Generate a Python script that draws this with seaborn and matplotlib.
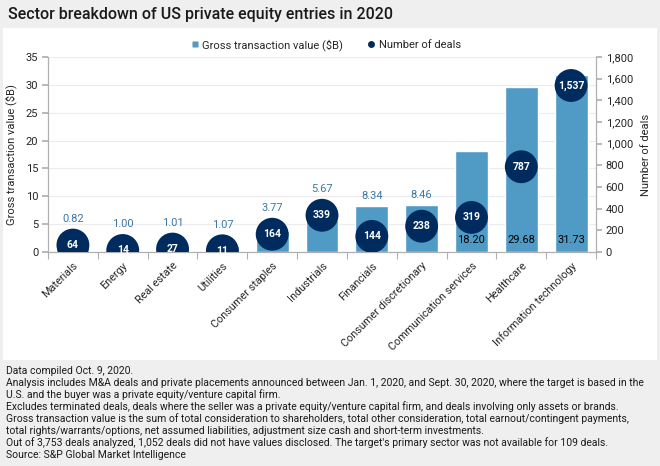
import matplotlib
matplotlib.use("Agg")
import matplotlib.pyplot as plt
from matplotlib.lines import Line2D
from matplotlib.patches import Rectangle
import numpy as np
import pandas as pd
import seaborn as sns

sectors = [
    "Materials", "Energy", "Real estate", "Utilities", "Consumer staples",
    "Industrials", "Financials", "Consumer discretionary",
    "Communication services", "Healthcare", "Information technology",
]
gross_value = [0.82, 1.00, 1.01, 1.07, 3.77, 5.67, 8.34, 8.46, 18.20, 29.68, 31.73]
deal_counts = [64, 14, 27, 11, 164, 339, 144, 238, 319, 787, 1537]

notes = [
    "Data compiled Oct. 9, 2020.",
    "Analysis includes M&A deals and private placements announced between Jan. 1, 2020, and Sept. 30, 2020, where the target is based in the",
    "U.S. and the buyer was a private equity/venture capital firm.",
    "Excludes terminated deals, deals where the seller was a private equity/venture capital firm, and deals involving only assets or brands.",
    "Gross transaction value is the sum of total consideration to shareholders, total other consideration, total earnout/contingent payments,",
    "total rights/warrants/options, net assumed liabilities, adjustment size cash and short-term investments.",
    "Out of 3,753 deals analyzed, 1,052 deals did not have values disclosed. The target's primary sector was not available for 109 deals.",
    "Source: S&P Global Market Intelligence",
]

BAR_COLOR = "#4f9bc6"
DOT_COLOR = "#002b5f"
LABEL_BLUE = "#3b78a6"
BG = "#efefef"

sns.set_theme(style="white")
plt.rcParams["font.family"] = ["Roboto", "DejaVu Sans"]

df = pd.DataFrame({"sector": sectors, "value": gross_value, "deals": deal_counts})
df["pos"] = np.arange(len(df))

fig = plt.figure(figsize=(6.6, 4.66), dpi=100)
fig.patch.set_facecolor(BG)
fig.patches.append(Rectangle((3 / 660, 1 - 360 / 466), 654 / 660, 332 / 466,
                             transform=fig.transFigure, facecolor="white",
                             edgecolor="none", zorder=-5))

ax = fig.add_axes([48 / 660, 1 - 252 / 466, 548 / 660, 195 / 466])
ax.set_facecolor("none")
sns.barplot(data=df, x="pos", y="value", color=BAR_COLOR, width=0.66,
            saturation=1, ax=ax, zorder=2)
ax.set_ylim(0, 35)
ax.set_yticks(range(0, 36, 5))
ax.grid(axis="y", color="#ececec", linewidth=0.8, zorder=0)
ax.set_axisbelow(True)

ax2 = ax.twinx()
sns.scatterplot(data=df, x="pos", y="deals", s=560, color=DOT_COLOR,
                edgecolor="none", ax=ax2, zorder=3, legend=False)
ax2.set_ylim(0, 1800)
ax2.set_yticks(range(0, 1801, 200))
ax2.set_yticklabels([f"{v:,}" for v in range(0, 1801, 200)])

# deal count labels inside the circles
for p, d in zip(df["pos"], df["deals"]):
    ax2.text(p, d, f"{d:,}", ha="center", va="center", color="white",
             fontsize=7.5, fontweight="bold", zorder=4)

# value labels: above bar/circle for small bars, inside base for big bars
px_to_left = 35 / 195
for p, v, d in zip(df["pos"], df["value"], df["deals"]):
    if v > 15:
        ax2.annotate(f"{v:.2f}", (p, 0), xytext=(0, 12), textcoords="offset pixels",
                     ha="center", va="center", fontsize=8, color="black", zorder=5)
    else:
        top = max(v, d / 1800 * 35 + 16 * px_to_left)
        ax2.annotate(f"{v:.2f}", (p, top / 35 * 1800), xytext=(0, 10),
                     textcoords="offset pixels", ha="center", va="center",
                     fontsize=8, color=LABEL_BLUE, zorder=5)

ax.set_xlim(-0.5, len(df) - 0.5)
ax.set_xticks(df["pos"])
ax.set_xticklabels(sectors, rotation=45, ha="right", rotation_mode="anchor",
                   fontsize=7.8)
ax.set_xticks(np.arange(-0.5, len(df), 1), minor=True)
ax.tick_params(axis="x", which="major", length=0, pad=6)
ax.tick_params(axis="x", which="minor", length=5, color="#b0b0b0", width=0.8,
               bottom=True)
ax.tick_params(axis="y", length=4, color="#b0b0b0", labelsize=8, pad=3, left=True)
ax2.tick_params(axis="y", length=4, color="#b0b0b0", labelsize=8, pad=3, right=True)
ax.set_xlabel("")
ax.set_ylabel("Gross transaction value ($B)", fontsize=8, labelpad=6)
ax2.set_ylabel("Number of deals", fontsize=8, labelpad=6)

for a in (ax, ax2):
    a.spines["top"].set_visible(False)
    for s in ("left", "right", "bottom"):
        a.spines[s].set_color("#b0b0b0")
        a.spines[s].set_linewidth(0.8)

handles = [
    Line2D([], [], marker="s", linestyle="none", markersize=5,
           markerfacecolor=BAR_COLOR, markeredgecolor="none",
           label="Gross transaction value ($B)"),
    Line2D([], [], marker="o", linestyle="none", markersize=5,
           markerfacecolor=DOT_COLOR, markeredgecolor="none",
           label="Number of deals"),
]
fig.legend(handles=handles, loc="center", bbox_to_anchor=(325 / 660, 1 - 45 / 466),
           ncol=2, frameon=False, fontsize=8, handletextpad=0.2,
           columnspacing=2.0, handlelength=1.0)

fig.text(8 / 660, 1 - 14 / 466, "Sector breakdown of US private equity entries in 2020",
         ha="left", va="center", fontsize=11.5, fontweight="medium", color="#1a1a1a")

for i, line in enumerate(notes):
    fig.text(6 / 660, 1 - (371 + 12 * i) / 466, line, ha="left", va="center",
             fontsize=7.5, color="#1a1a1a")

fig.savefig("out.png", dpi=100, facecolor=BG)
